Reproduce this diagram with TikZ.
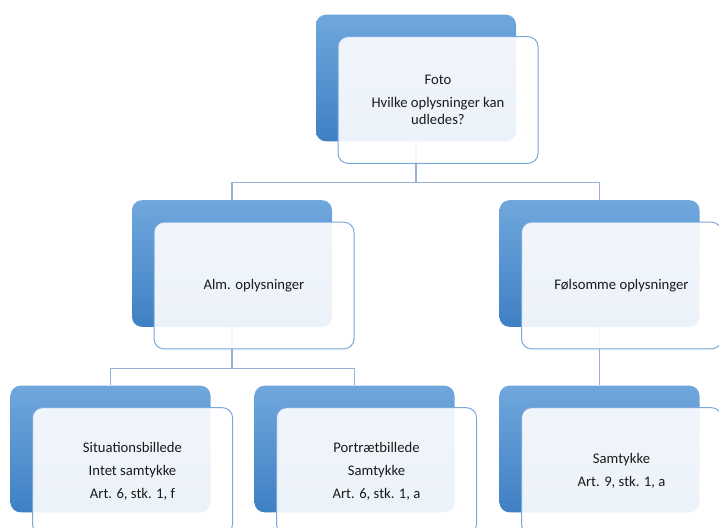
\documentclass[tikz,border=0pt]{standalone}
\usepackage{fontspec}
\setmainfont{Carlito}
\usetikzlibrary{positioning}

\definecolor{backtop}{RGB}{112,167,221}
\definecolor{backbot}{RGB}{62,128,196}
\definecolor{frontline}{RGB}{122,167,220}
\definecolor{linkcol}{RGB}{150,178,214}
\definecolor{txt}{RGB}{26,26,26}

\begin{document}
\begin{tikzpicture}[x=0.75pt,y=-0.75pt,
  every node/.style={rectangle,minimum width=150pt,minimum height=95pt,rounded corners=7.5pt,inner sep=2pt},
  back/.style={top color=backtop,bottom color=backbot,draw=none},
  front/.style={fill=white,fill opacity=0.9,text opacity=1,draw=frontline,line width=0.75pt,
    align=center,text=txt,font=\fontsize{11}{12.75}\selectfont},
  link/.style={draw=linkcol,line width=0.9pt}]

  \useasboundingbox (0,0) rectangle (719,528);

  \node[back] (foto-b) at (416,78) {};
  \node[back] (alm-b) at (232,263.5) {};
  \node[back] (foelsom-b) at (599.5,263.5) {};
  \node[back] (sit-b) at (110.5,449) {};
  \node[back] (port-b) at (354.5,449) {};
  \node[back] (samt-b) at (599.5,449) {};

  \path[link] (foto-b.south) -- ++(0,41) coordinate (j1);
  \path[link] (alm-b.north) |- (j1) -| (foelsom-b.north);
  \path[link] (alm-b.south) -- ++(0,41) coordinate (j2);
  \path[link] (sit-b.north) |- (j2) -| (port-b.north);
  \path[link] (foelsom-b.south) -- (samt-b.north);

  \node[front] (foto) at ([shift={(22,22)}]foto-b.center)
    {Foto\\[4.5pt]Hvilke oplysninger kan\\udledes?};
  \node[front] (alm) at ([shift={(22,22)}]alm-b.center) {Alm. oplysninger};
  \node[front] (foelsom) at ([shift={(22,22)}]foelsom-b.center) {Følsomme oplysninger};
  \node[front] (sit) at ([shift={(22,22)}]sit-b.center)
    {Situationsbillede\\[4.5pt]Intet samtykke\\[4.5pt]Art. 6, stk. 1, f};
  \node[front] (port) at ([shift={(22,22)}]port-b.center)
    {Portrætbillede\\[4.5pt]Samtykke\\[4.5pt]Art. 6, stk. 1, a};
  \node[front] (samt) at ([shift={(22,22)}]samt-b.center)
    {Samtykke\\[4.5pt]Art. 9, stk. 1, a};

\end{tikzpicture}
\end{document}
